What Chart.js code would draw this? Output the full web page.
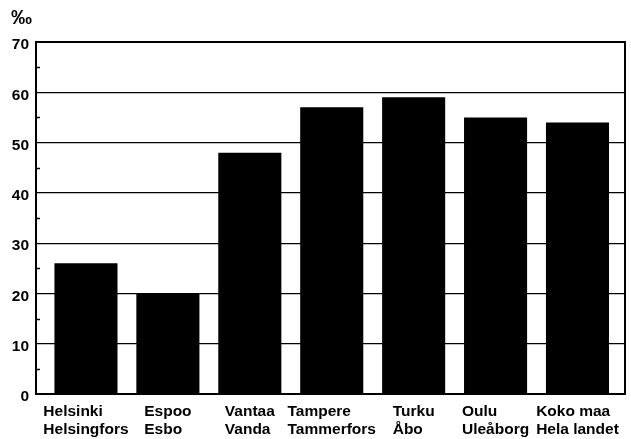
<!DOCTYPE html>
<html>
<head>
<meta charset="utf-8">
<script src="https://cdn.jsdelivr.net/npm/chart.js@4/dist/chart.umd.min.js"></script>
<style>
  html, body { margin: 0; padding: 0; background: #fff; }
  #wrap { width: 631px; height: 439px; position: relative; }
</style>
</head>
<body>
<div id="wrap"><canvas id="c" width="631" height="439"></canvas></div>
<script>
const categories = [
  ['Helsinki', 'Helsingfors'],
  ['Espoo', 'Esbo'],
  ['Vantaa', 'Vanda'],
  ['Tampere', 'Tammerfors'],
  ['Turku', 'Åbo'],
  ['Oulu', 'Uleåborg'],
  ['Koko maa', 'Hela landet']
];
const values = [26, 20, 48, 57, 59, 55, 54];
const yTickValues = [0, 10, 20, 30, 40, 50, 60, 70];
const minorTickValues = [5, 15, 25, 35, 45, 55, 65];
const unitLabel = '‰';

const FONT = '"Liberation Sans", Arial, sans-serif';
const FONT_SIZE = 15.5;

const decorPlugin = {
  id: 'decor',
  afterDraw(chart) {
    const ctx = chart.ctx;
    const a = chart.chartArea;
    const xs = chart.scales.x;
    const ys = chart.scales.y;
    ctx.save();
    ctx.strokeStyle = '#000';
    // right frame line
    ctx.lineWidth = 2;
    ctx.beginPath();
    ctx.moveTo(a.right, a.top - 1);
    ctx.lineTo(a.right, a.bottom + 1);
    ctx.stroke();
    // minor ticks on left axis (inside)
    ctx.lineWidth = 1.5;
    minorTickValues.forEach(v => {
      const y = Math.round(ys.getPixelForValue(v)) + 0.5;
      ctx.beginPath();
      ctx.moveTo(a.left, y);
      ctx.lineTo(a.left + 4, y);
      ctx.stroke();
    });
    // unit label
    ctx.fillStyle = '#000';
    ctx.textAlign = 'left';
    ctx.textBaseline = 'alphabetic';
    ctx.font = 'bold 21px ' + FONT;
    ctx.fillText(unitLabel, 11, a.top - 18);
    // category labels: block centred under bar, lines left-aligned
    ctx.font = 'bold ' + FONT_SIZE + 'px ' + FONT;
    categories.forEach((lines, i) => {
      const cx = xs.getPixelForValue(i);
      const w = Math.max(...lines.map(l => ctx.measureText(l).width));
      const x0 = cx - w / 2;
      lines.forEach((l, j) => {
        ctx.fillText(l, x0, a.bottom + 22 + j * 18);
      });
    });
    ctx.restore();
  }
};

new Chart(document.getElementById('c'), {
  type: 'bar',
  data: {
    datasets: [{
      data: values.map((v, i) => ({ x: i, y: v })),
      backgroundColor: '#000',
      borderWidth: 0,
      barPercentage: 0.77,
      categoryPercentage: 1.0
    }]
  },
  options: {
    responsive: false,
    animation: false,
    devicePixelRatio: 1,
    layout: { padding: { left: 0, right: 6, top: 42, bottom: 0 } },
    plugins: { legend: { display: false }, tooltip: { enabled: false }, title: { display: false } },
    scales: {
      x: {
        type: 'linear',
        offset: false,
        min: -0.61,
        max: 6.58,
        afterBuildTicks: s => { s.ticks = categories.map((c, i) => ({ value: i })); },
        grid: { display: false },
        border: { display: true, color: '#000', width: 2 },
        ticks: { display: false },
        afterFit: s => { s.height = 45; }
      },
      y: {
        min: 0,
        max: 70,
        afterBuildTicks: s => { s.ticks = yTickValues.map(v => ({ value: v })); },
        grid: {
          color: '#000',
          lineWidth: c => (c.tick && c.tick.value === 70 ? 2 : 1.2),
          drawTicks: false
        },
        border: { display: true, color: '#000', width: 2 },
        ticks: {
          color: '#000',
          font: { family: FONT, size: FONT_SIZE, weight: 'bold' },
          padding: 7,
          labelOffset: 3
        },
        afterFit: s => { s.width = 36; }
      }
    }
  },
  plugins: [decorPlugin]
});
</script>
</body>
</html>
